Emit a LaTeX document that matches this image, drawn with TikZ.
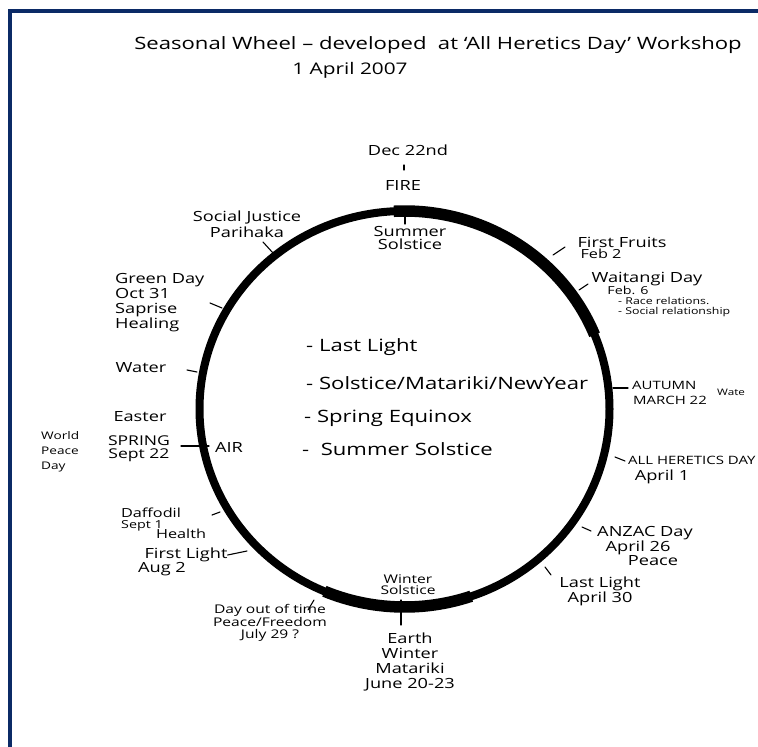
\documentclass[tikz,border=0pt]{standalone}
\usepackage{fontspec}
\setmainfont{Open Sans}[FakeStretch=1.3]
\definecolor{framec}{HTML}{0B2A66}
\begin{document}
\begin{tikzpicture}[x=1pt,y=-1pt,
  lbl/.style={inner sep=0pt, font=\fontsize{14}{15}\selectfont, align=center},
  lbls/.style={inner sep=0pt, font=\fontsize{12.5}{13}\selectfont, align=center},
  tiny/.style={inner sep=0pt, font=\fontsize{9.5}{10}\selectfont, anchor=west},
  big/.style={inner sep=0pt, font=\fontsize{17}{19}\selectfont, anchor=west},
  ttl/.style={inner sep=0pt, font=\fontsize{17}{20}\selectfont},
  tickline/.style={line width=1.1pt, line cap=round},
  ring/.style={line width=8pt},
  thickring/.style={line width=11.5pt}
]
\useasboundingbox (0,0) rectangle (758,747);
\fill[white] (0,0) rectangle (758,747);
% frame
\draw[framec, line width=4pt] (10,747) -- (10,11) -- (758,11);

% wheel
\begin{scope}[shift={(404.5,409)}, x=1pt, y=1pt]
  \draw[ring] (0,0) ellipse [x radius=205, y radius=198];
  \draw[thickring] (93:205 and 198) arc[start angle=93, end angle=22, x radius=205, y radius=198];
  \draw[thickring] (247:205 and 198) arc[start angle=247, end angle=289, x radius=205, y radius=198];
\end{scope}

% title
\node[ttl] (title) at (438,45) {Seasonal Wheel -- developed\ \ at `All Heretics Day' Workshop};
\node[ttl, font=\fontsize{16}{18}\selectfont] (date) at (350,70) {1 April 2007};

% top
\node[lbl] (dec) at (408,150) {Dec 22nd};
\node[lbl] (fire) at (403,185) {FIRE};
\node[lbl, font=\fontsize{14}{13}\selectfont] (summer) at (410,238) {Summer\\Solstice};

% upper left
\node[lbl, font=\fontsize{14}{16}\selectfont] (social) at (247,224) {Social Justice\\Parihaka};
\node[lbl, align=left, anchor=west] (green) at (115,303) {Green Day\\Oct 31\\Saprise\\Healing};
\node[lbl] (water) at (141,368) {Water};
\node[lbl] (easter) at (140,417) {Easter};
\node[lbl, font=\fontsize{13.5}{13}\selectfont] (spring) at (139,449) {SPRING\\Sept 22};
\node[lbl] (air) at (229,447) {AIR};
\node[lbls, align=left, anchor=west, font=\fontsize{10.5}{15}\selectfont] (world) at (41,452) {World\\Peace\\Day};

% lower left
\node[lbls] (daff) at (151,513) {Daffodil};
\node[lbls, font=\fontsize{11}{12}\selectfont] (sept1) at (142,526) {Sept 1};
\node[lbls] (health) at (181,534) {Health};
\node[lbl] (firstlight) at (186,555) {First Light};
\node[lbl] (aug) at (162,569) {Aug 2};
\node[lbls, font=\fontsize{12}{12.5}\selectfont] (dayout) at (270,623) {Day out of time\\Peace/Freedom\\July 29 ?};

% bottom
\node[lbls, font=\fontsize{12}{11}\selectfont] (wintersol) at (408,585) {Winter\\Solstice};
\node[lbl] (earth) at (410,662) {Earth\\Winter\\Matariki\\June 20-23};

% lower right
\node[lbl, font=\fontsize{14}{13}\selectfont] (lastlight) at (600,591) {Last Light\\April 30};
\node[lbl] (anzac) at (645,533) {ANZAC Day};
\node[lbl] (apr26) at (638,548) {April 26};
\node[lbl] (peace) at (653,561) {Peace};
\node[lbls, anchor=west, font=\fontsize{11.5}{12}\selectfont] (heretics) at (628,460) {ALL HERETICS DAY};
\node[lbl] (apr1) at (662,477) {April 1};

% right
\node[lbls, anchor=west, font=\fontsize{11.5}{12}\selectfont] (autumn) at (632,385) {AUTUMN};
\node[lbls, anchor=west, font=\fontsize{11.5}{12}\selectfont] (march) at (633,400) {MARCH 22};
\node[lbls, anchor=west, font=\fontsize{9}{10}\selectfont] (wate) at (717,392) {Wate};

% upper right
\node[lbl] (fruits) at (622,242) {First Fruits};
\node[lbls] (feb2) at (601,254) {Feb 2};
\node[lbl] (waitangi) at (647,279) {Waitangi Day};
\node[lbls, font=\fontsize{11}{12}\selectfont] (feb6) at (628,290) {Feb. 6};
\node[tiny] (race) at (618,301) {- Race relations.};
\node[tiny] (socrel) at (618,312) {- Social relationship};

% centre list
\node[big] (c1) at (306,347) {- Last Light};
\node[big] (c2) at (306,383) {- Solstice/Matariki/NewYear};
\node[big] (c3) at (304,418) {- Spring Equinox};
\node[big] (c4) at (302,449) {-\ \ Summer Solstice};

% ticks
\coordinate (decA) at (404,165);
\coordinate (decB) at (404,170);
\draw[tickline] (decA) -- (decB);
\coordinate (topA) at (405,211);
\coordinate (topB) at (405,224);
\draw[tickline] (topA) -- (topB);
\draw[tickline] (263,242) -- (273,253);
\draw[tickline] (210,303) -- (222,308);
\draw[tickline] (187,370) -- (197,372);
\coordinate (spA) at (181,446);
\coordinate (spB) at (209,446);
\draw[tickline] (spA) -- (spB);
\draw[tickline] (212,515) -- (220,512);
\coordinate (flB) at (247,551);
\draw[tickline] (firstlight.east) -- (flB);
\draw[tickline] (308,610) -- (314,600);
\draw[tickline] (401,600) -- (401,625);
\draw[tickline] (545,567) -- (551,575);
\draw[tickline] (582,527) -- (591,531);
\draw[tickline] (615,457) -- (625,461);
\draw[tickline] (613,388) -- (628,388);
\draw[tickline] (579,290) -- (588,284);
\draw[tickline] (553,255) -- (565,247);
\end{tikzpicture}
\end{document}
